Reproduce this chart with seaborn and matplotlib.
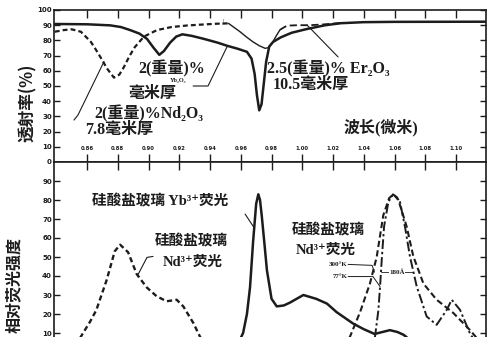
import numpy as np
import seaborn as sns
from matplotlib import pyplot as plt

# top panel: transmission (%) vs wavelength (micron)
yb_abs_wl = [0.839, 0.860, 0.875, 0.882, 0.888, 0.894, 0.899, 0.903, 0.907, 0.910,
             0.914, 0.918, 0.922, 0.928, 0.936, 0.945, 0.951, 0.958, 0.964, 0.967,
             0.969, 0.9705, 0.972, 0.9735, 0.975, 0.9765, 0.9785, 0.981, 0.986,
             0.993, 1.003, 1.015, 1.025, 1.040, 1.060, 1.120]
yb_abs_t = [90.8, 90.6, 89.9, 88.8, 86.8, 84.5, 81.0, 75.5, 70.5, 73.0,
            78.5, 82.5, 84.0, 83.0, 81.0, 78.5, 76.5, 74.5, 72.5, 68.0,
            58.0, 44.0, 34.0, 38.0, 52.0, 66.0, 76.0, 79.0, 82.0,
            85.0, 87.5, 90.0, 91.3, 92.0, 92.2, 92.3]

nd_abs_wl = [0.839, 0.845, 0.850, 0.856, 0.8625, 0.866, 0.869, 0.873, 0.8775, 0.881,
             0.884, 0.8875, 0.891, 0.897, 0.9055, 0.915, 0.925, 0.936, 0.945, 0.952]
nd_abs_t = [85.7, 86.8, 87.3, 85.7, 79.0, 73.5, 68.5, 61.5, 55.5, 57.5,
            62.5, 69.5, 75.5, 82.5, 86.8, 88.8, 89.8, 90.5, 91.0, 91.2]

er_abs_wl = [0.952, 0.955, 0.9595, 0.964, 0.968, 0.972, 0.9758, 0.978, 0.980, 0.9825,
             0.9855, 0.990, 0.997, 1.005, 1.015, 1.025]
er_abs_t = [91.2, 89.0, 85.7, 82.0, 79.0, 76.5, 74.8, 75.2, 77.5, 82.0,
            87.0, 89.7, 90.0, 90.0, 90.6, 91.5]
er_solid_end = 11  # first part drawn thin solid, rest dashed

# bottom panel: relative fluorescence intensity
nd_fl_wl = [0.848, 0.853, 0.8574, 0.862, 0.866, 0.8728, 0.878, 0.8815, 0.8867, 0.8923,
            0.8988, 0.9053, 0.9118, 0.9183, 0.9226, 0.9291, 0.9335, 0.938, 0.942]
nd_fl_i = [0, 4, 10, 16, 22, 38, 53, 56.5, 52.5, 41,
           34, 29.3, 26.7, 27.5, 24, 15.3, 8, 2, 0]

yb_fl_wl = [0.952, 0.958, 0.9615, 0.964, 0.966, 0.968, 0.970, 0.9714, 0.9725, 0.9736,
            0.9755, 0.977, 0.980, 0.9834, 0.988, 0.992, 1.0007, 1.009, 1.016, 1.0223,
            1.033, 1.040, 1.047, 1.052, 1.057, 1.062, 1.066, 1.072, 1.080]
yb_fl_i = [0, 4, 10, 20, 34, 58, 78, 83, 80, 72,
           56, 43, 28, 24, 24.5, 26, 30, 28, 25.5, 21,
           15, 12, 9.5, 10.5, 11.5, 10.5, 9, 5, 1]

nd300_wl = [1.025, 1.031, 1.0376, 1.044, 1.0484, 1.0527, 1.0565, 1.0593, 1.0625, 1.0679,
            1.0722, 1.0788, 1.0874, 1.0983, 1.109, 1.116]
nd300_i = [0, 8, 21, 36, 50, 72, 81, 83, 80, 66,
           50.4, 36, 27.5, 20.5, 11.6, 5]

nd77_wl = [1.044, 1.0473, 1.0495, 1.0506, 1.0517, 1.0532, 1.056, 1.059, 1.0615, 1.0636,
           1.067, 1.070, 1.0744, 1.0809, 1.0874, 1.094, 1.0972, 1.1026, 1.109, 1.115]
nd77_i = [0, 8, 22, 34.6, 48.8, 66, 79, 83, 81.5, 78.8,
          65, 50.4, 34.6, 18.7, 14.3, 22.2, 27.5, 22.2, 9.9, 2]

x_ticks = [0.86, 0.88, 0.90, 0.92, 0.94, 0.96, 0.98, 1.00, 1.02, 1.04, 1.06, 1.08, 1.10]
x_tick_labels = ["0.86", "0.88", "0.90", "0.92", "0.94", "0.96", "0.98",
                 "1.00", "1.02", "1.04", "1.06", "1.08", "1.10"]
top_y_ticks = list(range(0, 101, 10))
bottom_y_ticks = list(range(10, 100, 10))

sns.set_style("ticks")
plt.rcParams["font.family"] = ["Liberation Serif", "Noto Sans CJK SC", "DejaVu Sans"]
INK = "#1c1c1c"
CJK = ["Noto Sans CJK SC", "DejaVu Sans"]
LAB = ["Liberation Serif", "Noto Sans CJK SC", "DejaVu Serif"]

W, H = 489, 337
fig = plt.figure(figsize=(W / 100, H / 100), dpi=100)


def box(x0, y0, x1, y1):
    return [x0 / W, 1 - y1 / H, (x1 - x0) / W, (y1 - y0) / H]


ax_t = fig.add_axes(box(54, 10, 486, 162))
ax_b = fig.add_axes(box(54, 162, 486, 352))
xlim = (0.8385, 1.1195)

# ---- top panel
sns.lineplot(x=yb_abs_wl, y=yb_abs_t, ax=ax_t, color=INK, lw=1.8)
sns.lineplot(x=nd_abs_wl, y=nd_abs_t, ax=ax_t, color=INK, lw=1.6, ls=(0, (2.2, 1.4)))
sns.lineplot(x=er_abs_wl[:er_solid_end], y=er_abs_t[:er_solid_end], ax=ax_t, color=INK, lw=1.0)
sns.lineplot(x=er_abs_wl[er_solid_end - 1:], y=er_abs_t[er_solid_end - 1:], ax=ax_t,
             color=INK, lw=1.3, ls=(0, (4, 2)))

ax_t.set_xlim(*xlim)
ax_t.set_ylim(0, 100)
ax_t.set_xticks(x_ticks, x_tick_labels)
ax_t.set_yticks(top_y_ticks)
ax_t.tick_params(axis="x", direction="in", top=True, bottom=True, length=5.5, width=1,
                 labelsize=3.8, pad=-11.5, colors=INK)
ax_t.tick_params(axis="y", direction="in", left=True, right=True, length=4, width=1,
                 labelsize=5, pad=1.5, colors=INK)
for lab in ax_t.get_xticklabels() + ax_t.get_yticklabels():
    lab.set_family("DejaVu Sans")
    lab.set_fontweight("bold")
for s in ax_t.spines.values():
    s.set_linewidth(1.2)
    s.set_color(INK)
ax_t.set_xlabel("")
ax_t.set_ylabel("")

# labels + leader lines (top)
ax_t.text(0.9153, 61.2, "2(重量)%", family=LAB, fontsize=11.5, fontweight="bold",
          ha="center", va="center", color=INK)
ax_t.text(0.9192, 53.4, "Yb₂O₃", family=LAB, fontsize=4.5, fontweight="bold",
          ha="center", va="center", color=INK)
ax_t.text(0.9023, 45.4, "毫米厚", family=CJK, fontsize=11.5, fontweight="bold",
          ha="center", va="center", color=INK)
ax_t.plot([0.929, 0.9387, 0.951], [50, 50, 75.7], color=INK, lw=0.8)

ax_t.text(0.9003, 31.6, "2(重量)%Nd₂O₃", family=LAB, fontsize=11.5, fontweight="bold",
          ha="center", va="center", color=INK)
ax_t.text(0.8808, 21.0, "7.8毫米厚", family=LAB, fontsize=11.5, fontweight="bold",
          ha="center", va="center", color=INK)
ax_t.plot([0.871, 0.8541, 0.8515], [66, 30.9, 27.6], color=INK, lw=0.8)

ax_t.text(0.977, 61.5, "2.5(重量)% Er₂O₃", family=LAB, fontsize=11.5, fontweight="bold",
          ha="left", va="center", color=INK)
ax_t.text(0.981, 50.7, "10.5毫米厚", family=LAB, fontsize=11.5, fontweight="bold",
          ha="left", va="center", color=INK)
ax_t.plot([1.0233, 1.0031], [69.1, 90.1], color=INK, lw=0.8)

ax_t.text(1.0512, 22.4, "波长(微米)", family=LAB, fontsize=11.5, fontweight="bold",
          ha="center", va="center", color=INK)
ax_t.text(0.9485, 91.5, "/", family=LAB, fontsize=5.5, ha="center", va="center", color=INK)

fig.text(28 / W, 1 - 103 / H, "透射率(%)", family=CJK, fontsize=12, fontweight="bold",
         rotation=90, ha="center", va="center", color=INK)

# ---- bottom panel
sns.lineplot(x=nd_fl_wl, y=nd_fl_i, ax=ax_b, color=INK, lw=1.7, ls=(0, (2.2, 1.4)))
sns.lineplot(x=yb_fl_wl, y=yb_fl_i, ax=ax_b, color=INK, lw=1.8)
sns.lineplot(x=nd300_wl, y=nd300_i, ax=ax_b, color=INK, lw=1.5, ls=(0, (3, 1.6)))
sns.lineplot(x=nd77_wl, y=nd77_i, ax=ax_b, color=INK, lw=1.4, ls=(0, (5, 1.5, 1.2, 1.5)))

ax_b.set_xlim(*xlim)
ax_b.set_ylim(0, 100)
ax_b.set_xticks(x_ticks)
ax_b.set_yticks(bottom_y_ticks)
ax_b.tick_params(axis="x", direction="in", top=True, bottom=False, labelbottom=False,
                 length=6, width=1, colors=INK)
ax_b.tick_params(axis="y", direction="in", left=True, right=True, length=4, width=1,
                 labelsize=5, pad=1.5, colors=INK)
for lab in ax_b.get_yticklabels():
    lab.set_family("DejaVu Sans")
    lab.set_fontweight("bold")
for s in ax_b.spines.values():
    s.set_linewidth(1.2)
    s.set_color(INK)
ax_b.spines["bottom"].set_visible(False)
ax_b.set_xlabel("")
ax_b.set_ylabel("")

ax_b.text(0.8633, 79.5, "硅酸盐玻璃 Yb³⁺荧光", family=LAB, fontsize=10.5, fontweight="bold",
          ha="left", va="center", color=INK)
ax_b.plot([0.9628, 0.969], [72.6, 65], color=INK, lw=0.8)

ax_b.text(0.9276, 58.8, "硅酸盐玻璃", family=CJK, fontsize=10.5, fontweight="bold",
          ha="center", va="center", color=INK)
ax_b.text(0.929, 47.2, "Nd³⁺荧光", family=LAB, fontsize=10.5, fontweight="bold",
          ha="center", va="center", color=INK)
ax_b.plot([0.9029, 0.899, 0.8932], [50.3, 49.8, 40.8], color=INK, lw=0.8)

ax_b.text(1.0167, 64.6, "硅酸盐玻璃", family=CJK, fontsize=10.5, fontweight="bold",
          ha="center", va="center", color=INK)
ax_b.text(1.0154, 53.5, "Nd³⁺荧光", family=LAB, fontsize=10.5, fontweight="bold",
          ha="center", va="center", color=INK)

ax_b.text(1.0291, 46.1, "300°K", family=LAB, fontsize=5, fontweight="bold",
          ha="right", va="center", color=INK)
ax_b.plot([1.0298, 1.0454, 1.047], [46.1, 45.6, 42], color=INK, lw=0.7)
ax_b.text(1.0291, 39.7, "77°K", family=LAB, fontsize=5, fontweight="bold",
          ha="right", va="center", color=INK)
ax_b.plot([1.0298, 1.046, 1.0506], [39.7, 39.7, 34.4], color=INK, lw=0.7)
ax_b.plot([1.0515, 1.0723], [42, 42], color=INK, lw=0.6)
ax_b.text(1.0616, 42, "180Å", family=LAB, fontsize=5, fontweight="bold",
          ha="center", va="center", color=INK,
          bbox=dict(facecolor="white", edgecolor="none", pad=0.3))

fig.text(14 / W, 1 - 285 / H, "相对荧光强度", family=CJK, fontsize=11.5, fontweight="bold",
         rotation=90, ha="center", va="center", color=INK)

fig.savefig("out.png", dpi=100)
